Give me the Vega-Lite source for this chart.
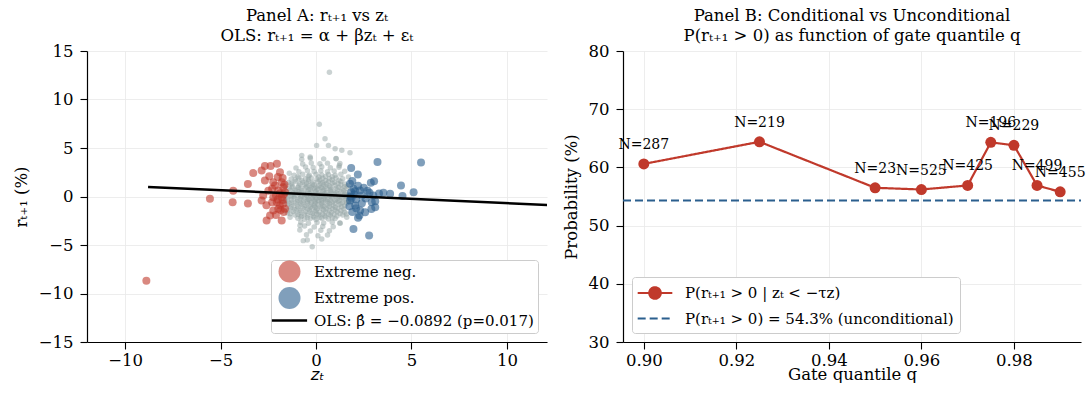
{
  "$schema": "https://vega.github.io/schema/vega-lite/v6.json",
  "padding": {"left": 13, "top": 7, "right": 0, "bottom": 0},
  "spacing": 16,
  "background": "white",
  "config": {
    "view": {"stroke": null},
    "axis": {"grid": true, "gridColor": "#e8e8e8", "gridWidth": 0.8, "domainColor": "black", "domainWidth": 1.2, "tickColor": "black", "tickSize": 7, "tickWidth": 1.1, "labelFont": "DejaVu Serif", "labelFontSize": 16.5, "labelColor": "black", "labelPadding": 3, "titleFont": "DejaVu Serif", "titleFontSize": 16.5, "titleFontWeight": "normal", "titleColor": "black"},
    "title": {"font": "DejaVu Serif", "fontSize": 16.5, "fontWeight": "normal", "color": "black", "lineHeight": 20, "offset": -1},
    "legend": {"labelFont": "DejaVu Serif", "labelFontSize": 15, "labelColor": "black", "strokeColor": "#cccccc", "fillColor": "white", "cornerRadius": 3, "padding": 4, "title": null, "labelLimit": 400}
  },
  "resolve": {"scale": {"color": "independent", "strokeDash": "independent", "fill": "independent"}, "legend": {"color": "independent", "strokeDash": "independent"}},
  "hconcat": [
    {
      "width": 460, "height": 291,
      "title": {"text": ["Panel A: rₜ₊₁ vs zₜ", "OLS: rₜ₊₁ = α + βzₜ + εₜ"]},
      "layer": [
        {
          "data": {"values": [
            {"z":-1.6,"r":0.15},{"z":-1.3,"r":0.05},{"z":-1.0,"r":0.12},{"z":-0.75,"r":0.02},{"z":-0.5,"r":0.1},{"z":-0.3,"r":0.18},{"z":-0.1,"r":0.05},{"z":0.1,"r":0.12},{"z":0.3,"r":0.0},{"z":0.5,"r":0.15},{"z":0.7,"r":0.08},{"z":0.95,"r":0.2},{"z":1.2,"r":0.02},{"z":1.45,"r":0.1},{"z":1.7,"r":0.16},
            {"z":-1.5,"r":-0.25},{"z":-1.15,"r":-0.15},{"z":-0.85,"r":-0.22},{"z":-0.6,"r":-0.12},{"z":-0.4,"r":-0.28},{"z":-0.2,"r":-0.18},{"z":0.0,"r":-0.24},{"z":0.2,"r":-0.1},{"z":0.4,"r":-0.2},{"z":0.6,"r":-0.3},{"z":0.85,"r":-0.15},{"z":1.1,"r":-0.25},{"z":1.35,"r":-0.12},{"z":1.6,"r":-0.22},
            {"z":-1.55,"r":0.5},{"z":-1.2,"r":0.4},{"z":-0.9,"r":0.48},{"z":-0.65,"r":0.38},{"z":-0.45,"r":0.52},{"z":-0.25,"r":0.42},{"z":-0.05,"r":0.5},{"z":0.15,"r":0.4},{"z":0.35,"r":0.55},{"z":0.55,"r":0.44},{"z":0.8,"r":0.5},{"z":1.05,"r":0.38},{"z":1.3,"r":0.48},{"z":1.55,"r":0.42},
            {"z":-1.65,"r":-0.5},{"z":-1.3,"r":-0.6},{"z":-1.0,"r":-0.52},{"z":-0.7,"r":-0.58},{"z":-0.45,"r":-0.48},{"z":-0.25,"r":-0.62},{"z":-0.05,"r":-0.55},{"z":0.15,"r":-0.5},{"z":0.35,"r":-0.6},{"z":0.6,"r":-0.52},{"z":0.85,"r":-0.58},{"z":1.15,"r":-0.48},{"z":1.4,"r":-0.6},{"z":1.7,"r":-0.54},
            {"z":-1.4,"r":0.85},{"z":-1.1,"r":0.75},{"z":-0.8,"r":0.82},{"z":-0.55,"r":0.9},{"z":-0.3,"r":0.76},{"z":-0.1,"r":0.84},{"z":0.1,"r":0.78},{"z":0.3,"r":0.88},{"z":0.55,"r":0.8},{"z":0.8,"r":0.74},{"z":1.05,"r":0.86},{"z":1.35,"r":0.78},{"z":1.6,"r":0.84},
            {"z":-1.5,"r":-0.85},{"z":-1.15,"r":-0.95},{"z":-0.85,"r":-0.88},{"z":-0.55,"r":-0.94},{"z":-0.3,"r":-0.84},{"z":-0.1,"r":-0.92},{"z":0.1,"r":-0.86},{"z":0.35,"r":-0.96},{"z":0.6,"r":-0.88},{"z":0.9,"r":-0.92},{"z":1.2,"r":-0.84},{"z":1.5,"r":-0.95},
            {"z":-1.6,"r":1.1},{"z":-1.25,"r":1.2},{"z":-0.9,"r":1.12},{"z":-0.6,"r":1.22},{"z":-0.35,"r":1.1},{"z":-0.1,"r":1.18},{"z":0.15,"r":1.12},{"z":0.4,"r":1.2},{"z":0.7,"r":1.1},{"z":1.0,"r":1.16},{"z":1.3,"r":1.22},{"z":1.65,"r":1.12},
            {"z":-1.35,"r":-1.2},{"z":-1.0,"r":-1.3},{"z":-0.7,"r":-1.22},{"z":-0.45,"r":-1.3},{"z":-0.2,"r":-1.18},{"z":0.05,"r":-1.28},{"z":0.3,"r":-1.2},{"z":0.55,"r":-1.3},{"z":0.85,"r":-1.24},{"z":1.15,"r":-1.2},{"z":1.45,"r":-1.3},
            {"z":-1.45,"r":1.45},{"z":-1.05,"r":1.55},{"z":-0.7,"r":1.48},{"z":-0.4,"r":1.56},{"z":-0.15,"r":1.46},{"z":0.1,"r":1.52},{"z":0.35,"r":1.44},{"z":0.65,"r":1.55},{"z":0.95,"r":1.48},{"z":1.3,"r":1.54},
            {"z":-1.2,"r":-1.55},{"z":-0.85,"r":-1.65},{"z":-0.55,"r":-1.58},{"z":-0.3,"r":-1.66},{"z":-0.05,"r":-1.55},{"z":0.2,"r":-1.62},{"z":0.5,"r":-1.56},{"z":0.8,"r":-1.65},{"z":1.1,"r":-1.58},{"z":1.5,"r":-1.62},
            {"z":-1.3,"r":1.8},{"z":-0.9,"r":1.9},{"z":-0.55,"r":1.82},{"z":-0.25,"r":1.9},{"z":0.05,"r":1.8},{"z":0.35,"r":1.88},{"z":0.7,"r":1.82},{"z":1.05,"r":1.9},{"z":1.4,"r":1.84},
            {"z":-1.1,"r":-1.9},{"z":-0.75,"r":-2.0},{"z":-0.45,"r":-1.92},{"z":-0.15,"r":-2.0},{"z":0.15,"r":-1.9},{"z":0.45,"r":-1.98},{"z":0.75,"r":-1.92},{"z":1.1,"r":-2.0},{"z":1.4,"r":-1.9},
            {"z":-1.15,"r":2.2},{"z":-0.7,"r":2.3},{"z":-0.35,"r":2.2},{"z":0.0,"r":2.3},{"z":0.3,"r":2.22},{"z":0.65,"r":2.28},{"z":1.0,"r":2.2},{"z":1.3,"r":2.3},
            {"z":-0.95,"r":-2.25},{"z":-0.6,"r":-2.35},{"z":-0.3,"r":-2.28},{"z":0.0,"r":-2.36},{"z":0.3,"r":-2.25},{"z":0.65,"r":-2.32},{"z":1.0,"r":-2.26},
            {"z":-0.9,"r":2.55},{"z":-0.45,"r":2.65},{"z":-0.1,"r":2.58},{"z":0.25,"r":2.66},{"z":0.6,"r":2.55},{"z":0.95,"r":2.62},{"z":1.5,"r":2.6},
            {"z":-0.8,"r":-2.65},{"z":-0.4,"r":-2.75},{"z":0.05,"r":-2.68},{"z":0.4,"r":-2.74},{"z":0.85,"r":-2.66},{"z":1.25,"r":-2.72},
            {"z":-1.05,"r":2.95},{"z":-0.55,"r":3.05},{"z":-0.15,"r":2.98},{"z":0.3,"r":3.06},{"z":0.75,"r":2.96},{"z":1.2,"r":3.02},
            {"z":-0.6,"r":-3.05},{"z":-0.1,"r":-3.15},{"z":0.35,"r":-3.08},{"z":0.9,"r":-3.12},
            {"z":-0.7,"r":3.35},{"z":-0.25,"r":3.45},{"z":0.2,"r":3.38},{"z":0.6,"r":3.44},{"z":1.25,"r":3.4},
            {"z":-0.85,"r":-3.45},{"z":-0.3,"r":-3.55},{"z":0.25,"r":-3.48},{"z":0.7,"r":-3.52},
            {"z":-0.75,"r":3.85},{"z":-0.3,"r":3.95},{"z":0.4,"r":3.88},{"z":1.05,"r":3.92},
            {"z":-0.5,"r":-3.95},{"z":0.1,"r":-4.05},{"z":0.6,"r":-3.98},
            {"z":-0.9,"r":0.28},{"z":-0.6,"r":0.22},{"z":-0.35,"r":0.3},{"z":-0.15,"r":0.2},{"z":0.05,"r":0.28},{"z":0.25,"r":0.22},{"z":0.45,"r":0.3},{"z":0.7,"r":0.24},{"z":0.95,"r":0.3},
            {"z":-0.95,"r":-0.38},{"z":-0.65,"r":-0.44},{"z":-0.35,"r":-0.36},{"z":-0.1,"r":-0.42},{"z":0.1,"r":-0.38},{"z":0.3,"r":-0.44},{"z":0.5,"r":-0.36},{"z":0.75,"r":-0.42},{"z":1.0,"r":-0.4},
            {"z":-0.75,"r":0.62},{"z":-0.4,"r":0.66},{"z":0.0,"r":0.6},{"z":0.4,"r":0.64},{"z":0.75,"r":0.62},
            {"z":-0.8,"r":-0.72},{"z":-0.45,"r":-0.68},{"z":-0.05,"r":-0.74},{"z":0.3,"r":-0.7},{"z":0.7,"r":-0.72},
            {"z":-0.8,"r":-0.05},{"z":-0.45,"r":-0.02},{"z":-0.15,"r":-0.08},{"z":0.15,"r":-0.04},{"z":0.45,"r":-0.06},{"z":0.8,"r":-0.02},
            {"z":-0.5,"r":1.0},{"z":0.0,"r":0.98},{"z":0.5,"r":1.02},
            {"z":-0.6,"r":-1.05},{"z":-0.05,"r":-1.08},{"z":0.45,"r":-1.02},
            {"z":-1.35,"r":0.68},{"z":-1.05,"r":0.62},{"z":1.1,"r":0.66},{"z":1.45,"r":0.6},
            {"z":-1.4,"r":-0.72},{"z":-1.1,"r":-0.66},{"z":1.0,"r":-0.7},{"z":1.3,"r":-0.74},{"z":1.6,"r":-0.68},
            {"z":-1.45,"r":0.3},{"z":-1.2,"r":0.24},{"z":1.2,"r":0.28},{"z":1.5,"r":0.26},
            {"z":-1.6,"r":-0.4},{"z":-1.3,"r":-0.36},{"z":1.25,"r":-0.38},{"z":1.55,"r":-0.42},
            {"z":-1.25,"r":0.98},{"z":-0.95,"r":0.95},{"z":-0.25,"r":0.96},{"z":0.25,"r":0.94},{"z":0.75,"r":0.98},{"z":1.2,"r":0.96},{"z":1.5,"r":1.0},
            {"z":-1.3,"r":-1.08},{"z":-0.95,"r":-1.05},{"z":-0.3,"r":-1.1},{"z":0.2,"r":-1.06},{"z":0.7,"r":-1.04},{"z":1.0,"r":-1.1},{"z":1.35,"r":-1.06},
            {"z":-1.3,"r":1.35},{"z":-0.85,"r":1.32},{"z":-0.5,"r":1.38},{"z":-0.2,"r":1.3},{"z":0.25,"r":1.36},{"z":0.55,"r":1.32},{"z":0.85,"r":1.38},{"z":1.15,"r":1.34},{"z":1.5,"r":1.3},
            {"z":-1.5,"r":-1.42},{"z":-1.1,"r":-1.38},{"z":-0.8,"r":-1.44},{"z":-0.35,"r":-1.4},{"z":0.0,"r":-1.45},{"z":0.4,"r":-1.38},{"z":0.7,"r":-1.42},{"z":1.0,"r":-1.4},{"z":1.3,"r":-1.44},
            {"z":-1.1,"r":1.7},{"z":-0.75,"r":1.68},{"z":-0.4,"r":1.72},{"z":0.2,"r":1.7},{"z":0.5,"r":1.66},{"z":0.85,"r":1.72},{"z":1.2,"r":1.68},
            {"z":-1.35,"r":-1.78},{"z":-0.95,"r":-1.82},{"z":-0.6,"r":-1.8},{"z":-0.2,"r":-1.76},{"z":0.05,"r":-1.82},{"z":0.35,"r":-1.78},{"z":0.65,"r":-1.84},{"z":0.95,"r":-1.8},{"z":1.25,"r":-1.76},
            {"z":-0.95,"r":2.05},{"z":-0.4,"r":2.08},{"z":0.15,"r":2.02},{"z":0.5,"r":2.06},{"z":0.85,"r":2.04},
            {"z":-0.8,"r":-2.12},{"z":-0.45,"r":-2.18},{"z":-0.1,"r":-2.14},{"z":0.2,"r":-2.16},{"z":0.5,"r":-2.12},{"z":0.85,"r":-2.18},
            {"z":-1.45,"r":-0.02},{"z":-1.15,"r":0.0},{"z":1.05,"r":0.04},{"z":1.35,"r":-0.04},{"z":1.6,"r":0.0},
            {"z":0.7,"r":12.8},{"z":0.17,"r":7.45},{"z":0.47,"r":5.96},{"z":0.65,"r":5.27},{"z":0.03,"r":5.27},{"z":1.0,"r":4.93},{"z":1.35,"r":4.76},{"z":1.78,"r":4.52},{"z":-0.75,"r":4.24},{"z":-0.31,"r":4.07},{"z":-0.67,"r":-4.55},{"z":-0.46,"r":-4.48},{"z":0.3,"r":-4.37},{"z":-0.2,"r":-5.17},{"z":-0.84,"r":-3.0},{"z":1.26,"r":-2.76},{"z":-1.36,"r":-2.14},{"z":1.61,"r":-2.14},{"z":1.22,"r":3.2},{"z":1.05,"r":3.9},{"z":-1.4,"r":2.4},{"z":1.6,"r":-1.8},{"z":-1.5,"r":-1.7},{"z":1.7,"r":2.0}
          ]},
          "mark": {"type": "circle", "color": "#95a5a6", "opacity": 0.5, "size": 30},
          "encoding": {
            "x": {"field": "z", "type": "quantitative", "scale": {"domain": [-12, 12.1], "nice": false, "zero": false}, "axis": {"values": [-10, -5, 0, 5, 10], "title": "zₜ", "titleFont": "DejaVu Sans", "titleFontStyle": "italic", "titlePadding": -2}},
            "y": {"field": "r", "type": "quantitative", "scale": {"domain": [-15, 15], "nice": false, "zero": false}, "axis": {"values": [-15, -10, -5, 0, 5, 10, 15], "title": "rₜ₊₁ (%)", "titlePadding": 9, "labelPadding": 7}}
          }
        },
        {
          "data": {"values": [
            {"z":-8.89,"r":-8.69,"g":"Extreme neg."},{"z":-5.56,"r":-0.24,"g":"Extreme neg."},{"z":-4.37,"r":-0.59,"g":"Extreme neg."},{"z":-4.34,"r":0.6,"g":"Extreme neg."},{"z":-3.57,"r":-0.72,"g":"Extreme neg."},{"z":-3.57,"r":1.28,"g":"Extreme neg."},{"z":-3.29,"r":2.41,"g":"Extreme neg."},{"z":-2.85,"r":2.69,"g":"Extreme neg."},{"z":-2.68,"r":3.15,"g":"Extreme neg."},{"z":-2.38,"r":3.15,"g":"Extreme neg."},{"z":-2.05,"r":3.38,"g":"Extreme neg."},{"z":-1.89,"r":2.51,"g":"Extreme neg."},{"z":-2.68,"r":1.65,"g":"Extreme neg."},{"z":-2.24,"r":1.48,"g":"Extreme neg."},{"z":-1.8,"r":1.48,"g":"Extreme neg."},{"z":-1.72,"r":0.96,"g":"Extreme neg."},{"z":-1.98,"r":0.62,"g":"Extreme neg."},{"z":-1.63,"r":0.44,"g":"Extreme neg."},{"z":-2.77,"r":0.1,"g":"Extreme neg."},{"z":-2.85,"r":-0.41,"g":"Extreme neg."},{"z":-2.24,"r":-0.07,"g":"Extreme neg."},{"z":-1.8,"r":-0.07,"g":"Extreme neg."},{"z":-2.06,"r":-0.59,"g":"Extreme neg."},{"z":-1.72,"r":-0.76,"g":"Extreme neg."},{"z":-1.98,"r":-1.27,"g":"Extreme neg."},{"z":-2.24,"r":-1.45,"g":"Extreme neg."},{"z":-2.41,"r":-1.96,"g":"Extreme neg."},{"z":-2.59,"r":-2.48,"g":"Extreme neg."},{"z":-1.8,"r":-2.48,"g":"Extreme neg."},{"z":-1.63,"r":-1.27,"g":"Extreme neg."},{"z":-2.15,"r":1.14,"g":"Extreme neg."},{"z":-2.0,"r":2.0,"g":"Extreme neg."},{"z":-1.75,"r":1.9,"g":"Extreme neg."},{"z":-2.45,"r":2.1,"g":"Extreme neg."},{"z":-1.7,"r":0.2,"g":"Extreme neg."},{"z":-1.9,"r":0.3,"g":"Extreme neg."},{"z":-2.1,"r":0.1,"g":"Extreme neg."},{"z":-1.75,"r":-0.35,"g":"Extreme neg."},{"z":-2.3,"r":-0.6,"g":"Extreme neg."},{"z":-1.9,"r":-0.9,"g":"Extreme neg."},{"z":-1.7,"r":-1.6,"g":"Extreme neg."},{"z":-2.1,"r":-1.9,"g":"Extreme neg."},{"z":-2.5,"r":0.6,"g":"Extreme neg."},{"z":-2.6,"r":-0.9,"g":"Extreme neg."},{"z":-1.85,"r":-1.4,"g":"Extreme neg."},{"z":-2.3,"r":0.8,"g":"Extreme neg."},{"z":-1.65,"r":1.2,"g":"Extreme neg."},{"z":-2.0,"r":-0.3,"g":"Extreme neg."},
            {"z":3.22,"r":3.55,"g":"Extreme pos."},{"z":5.5,"r":3.5,"g":"Extreme pos."},{"z":1.84,"r":2.93,"g":"Extreme pos."},{"z":2.19,"r":2.27,"g":"Extreme pos."},{"z":2.87,"r":1.42,"g":"Extreme pos."},{"z":3.04,"r":1.58,"g":"Extreme pos."},{"z":4.45,"r":1.14,"g":"Extreme pos."},{"z":1.78,"r":1.31,"g":"Extreme pos."},{"z":1.96,"r":0.8,"g":"Extreme pos."},{"z":2.31,"r":0.62,"g":"Extreme pos."},{"z":2.8,"r":0.38,"g":"Extreme pos."},{"z":3.53,"r":0.38,"g":"Extreme pos."},{"z":3.88,"r":0.28,"g":"Extreme pos."},{"z":4.53,"r":0.05,"g":"Extreme pos."},{"z":5.11,"r":0.44,"g":"Extreme pos."},{"z":1.78,"r":-0.41,"g":"Extreme pos."},{"z":2.05,"r":-0.93,"g":"Extreme pos."},{"z":2.31,"r":-1.45,"g":"Extreme pos."},{"z":2.57,"r":-1.62,"g":"Extreme pos."},{"z":3.1,"r":-1.1,"g":"Extreme pos."},{"z":2.92,"r":-0.59,"g":"Extreme pos."},{"z":1.96,"r":-3.34,"g":"Extreme pos."},{"z":2.78,"r":-4.03,"g":"Extreme pos."},{"z":2.27,"r":-1.96,"g":"Extreme pos."},{"z":1.84,"r":0.45,"g":"Extreme pos."},{"z":1.8,"r":0.0,"g":"Extreme pos."},{"z":2.0,"r":0.2,"g":"Extreme pos."},{"z":2.1,"r":-0.3,"g":"Extreme pos."},{"z":2.2,"r":1.1,"g":"Extreme pos."},{"z":1.9,"r":1.6,"g":"Extreme pos."},{"z":2.4,"r":0.1,"g":"Extreme pos."},{"z":2.6,"r":-0.2,"g":"Extreme pos."},{"z":2.5,"r":0.9,"g":"Extreme pos."},{"z":1.75,"r":-1.0,"g":"Extreme pos."},{"z":1.9,"r":-1.6,"g":"Extreme pos."},{"z":2.1,"r":-1.2,"g":"Extreme pos."},{"z":2.7,"r":0.6,"g":"Extreme pos."},{"z":3.0,"r":0.1,"g":"Extreme pos."},{"z":3.3,"r":0.3,"g":"Extreme pos."},{"z":2.4,"r":-0.7,"g":"Extreme pos."},{"z":1.85,"r":-0.2,"g":"Extreme pos."},{"z":2.05,"r":0.55,"g":"Extreme pos."},{"z":3.1,"r":-0.5,"g":"Extreme pos."},{"z":2.9,"r":-1.3,"g":"Extreme pos."},{"z":2.2,"r":-2.2,"g":"Extreme pos."}
          ]},
          "mark": {"type": "circle", "opacity": 0.6, "size": 64},
          "encoding": {
            "x": {"field": "z", "type": "quantitative"},
            "y": {"field": "r", "type": "quantitative"},
            "fill": {"field": "g", "type": "nominal", "legend": null,
              "scale": {"domain": ["Extreme neg.", "Extreme pos."], "range": ["#c0392b", "#2b5f8e"]}}
          }
        },
        {"mark": {"type": "rule", "color": "#333333", "strokeWidth": 0.8, "strokeDash": [1, 2]}, "encoding": {"y": {"datum": 0}}},
        {"mark": {"type": "rule", "color": "#333333", "strokeWidth": 0.8, "strokeDash": [1, 2]}, "encoding": {"x": {"datum": 0}}},
        {
          "data": {"values": [{"z": -8.8, "r": 0.985, "g": "OLS: β̂ = −0.0892 (p=0.017)"}, {"z": 12.5, "r": -0.915, "g": "OLS: β̂ = −0.0892 (p=0.017)"}]},
          "mark": {"type": "line", "strokeWidth": 2.5, "clip": true},
          "encoding": {
            "x": {"field": "z", "type": "quantitative"},
            "y": {"field": "r", "type": "quantitative"},
            "color": {"field": "g", "type": "nominal",
              "scale": {"domain": ["Extreme neg.", "Extreme pos.", "OLS: β̂ = −0.0892 (p=0.017)"], "range": ["#c0392b", "#2b5f8e", "#000000"]},
              "legend": {"orient": "bottom-right", "offset": 9, "symbolSize": 484, "symbolOffset": 7, "labelOffset": 17, "padding": 4, "rowPadding": 3.5,
                "encode": {"symbols": {"update": {
                  "shape": {"signal": "datum.index === 2 ? 'M-1.6,0H1.6' : 'circle'"},
                  "size": {"value": 484},
                  "fill": {"signal": "datum.index === 0 ? '#c0392b' : (datum.index === 1 ? '#2b5f8e' : 'transparent')"},
                  "fillOpacity": {"value": 0.6},
                  "stroke": {"signal": "datum.index === 2 ? '#000000' : 'transparent'"},
                  "strokeOpacity": {"signal": "datum.index === 2 ? 1 : 0"},
                  "strokeWidth": {"signal": "datum.index === 2 ? 2.5 : 0"},
                  "strokeDash": {"value": [1, 0]},
                  "opacity": {"value": 1}
                }}}
              }
            }
          }
        }
      ]
    },
    {
      "width": 458, "height": 291,
      "title": {"text": ["Panel B: Conditional vs Unconditional", "P(rₜ₊₁ > 0) as function of gate quantile q"]},
      "layer": [
        {
          "data": {"values": [
            {"q": 0.8955, "p": 54.3, "s": "P(rₜ₊₁ > 0) = 54.3% (unconditional)"},
            {"q": 0.9945, "p": 54.3, "s": "P(rₜ₊₁ > 0) = 54.3% (unconditional)"}
          ]},
          "mark": {"type": "line", "strokeWidth": 2},
          "encoding": {
            "x": {"field": "q", "type": "quantitative", "scale": {"domain": [0.8955, 0.9945], "nice": false, "zero": false}, "axis": {"values": [0.9, 0.92, 0.94, 0.96, 0.98], "format": ".2f", "title": "Gate quantile q", "titlePadding": -2}},
            "y": {"field": "p", "type": "quantitative", "scale": {"domain": [30, 80], "nice": false, "zero": false}, "axis": {"values": [30, 40, 50, 60, 70, 80], "title": "Probability (%)", "titlePadding": 9, "labelPadding": 7}},
            "color": {"field": "s", "type": "nominal",
              "scale": {"domain": ["P(rₜ₊₁ > 0 | zₜ < −τz)", "P(rₜ₊₁ > 0) = 54.3% (unconditional)"], "range": ["#c0392b", "#2b5f8e"]},
              "legend": {"orient": "bottom-left", "offset": 9, "symbolSize": 300, "symbolOffset": 7, "labelOffset": 20, "padding": 6, "rowPadding": 4.5,
                "encode": {"symbols": {"update": {
                  "shape": {"signal": "datum.index === 1 ? 'M-2,0H2' : 'M-2,0H2M-0.66,0A0.66,0.66,0,1,1,0.66,0A0.66,0.66,0,1,1,-0.66,0'"},
                  "size": {"value": 300},
                  "fill": {"signal": "datum.index === 1 ? 'transparent' : '#c0392b'"},
                  "stroke": {"signal": "datum.index === 1 ? '#2b5f8e' : '#c0392b'"},
                  "strokeWidth": {"value": 2.2},
                  "opacity": {"value": 1}
                }}}
              }
            },
            "strokeDash": {"field": "s", "type": "nominal",
              "scale": {"domain": ["P(rₜ₊₁ > 0 | zₜ < −τz)", "P(rₜ₊₁ > 0) = 54.3% (unconditional)"], "range": [[1, 0], [8, 4]]}}
          }
        },
        {
          "data": {"values": [
            {"q": 0.9, "p": 60.6, "s": "P(rₜ₊₁ > 0 | zₜ < −τz)"},
            {"q": 0.925, "p": 64.4, "s": "P(rₜ₊₁ > 0 | zₜ < −τz)"},
            {"q": 0.95, "p": 56.5, "s": "P(rₜ₊₁ > 0 | zₜ < −τz)"},
            {"q": 0.96, "p": 56.2, "s": "P(rₜ₊₁ > 0 | zₜ < −τz)"},
            {"q": 0.97, "p": 56.9, "s": "P(rₜ₊₁ > 0 | zₜ < −τz)"},
            {"q": 0.975, "p": 64.3, "s": "P(rₜ₊₁ > 0 | zₜ < −τz)"},
            {"q": 0.98, "p": 63.8, "s": "P(rₜ₊₁ > 0 | zₜ < −τz)"},
            {"q": 0.985, "p": 56.9, "s": "P(rₜ₊₁ > 0 | zₜ < −τz)"},
            {"q": 0.99, "p": 55.8, "s": "P(rₜ₊₁ > 0 | zₜ < −τz)"}
          ]},
          "layer": [
            {
              "mark": {"type": "line", "strokeWidth": 2.2},
              "encoding": {
                "x": {"field": "q", "type": "quantitative"},
                "y": {"field": "p", "type": "quantitative"},
                "color": {"field": "s", "type": "nominal"},
                "strokeDash": {"field": "s", "type": "nominal"}
              }
            },
            {
              "mark": {"type": "circle", "size": 121, "opacity": 1, "color": "#c0392b"},
              "encoding": {"x": {"field": "q", "type": "quantitative"}, "y": {"field": "p", "type": "quantitative"}}
            }
          ]
        },
        {
          "data": {"values": [
            {"q": 0.9, "p": 60.6, "n": "N=287"},
            {"q": 0.925, "p": 64.4, "n": "N=219"},
            {"q": 0.95, "p": 56.5, "n": "N=23"},
            {"q": 0.96, "p": 56.2, "n": "N=525"},
            {"q": 0.97, "p": 56.9, "n": "N=425"},
            {"q": 0.975, "p": 64.3, "n": "N=196"},
            {"q": 0.98, "p": 63.8, "n": "N=229"},
            {"q": 0.985, "p": 56.9, "n": "N=499"},
            {"q": 0.99, "p": 55.8, "n": "N=455"}
          ]},
          "mark": {"type": "text", "dy": -19, "font": "DejaVu Serif", "fontSize": 14, "color": "black"},
          "encoding": {"x": {"field": "q", "type": "quantitative"}, "y": {"field": "p", "type": "quantitative"}, "text": {"field": "n"}}
        }
      ]
    }
  ]
}
